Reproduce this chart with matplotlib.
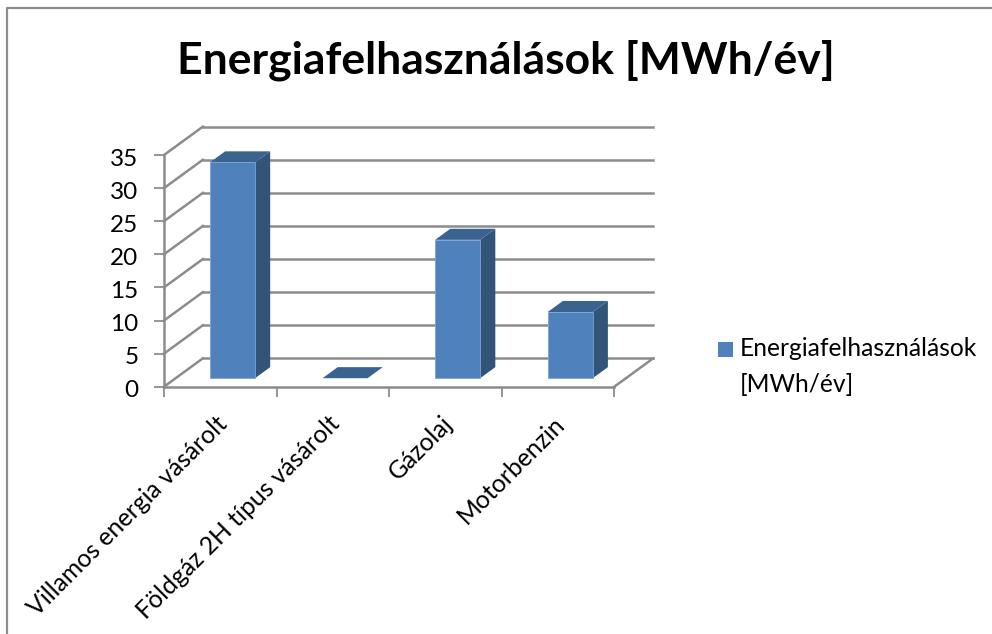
import matplotlib
matplotlib.use('Agg')
import matplotlib.pyplot as plt
from matplotlib.lines import Line2D
from matplotlib.patches import Polygon, Rectangle
from matplotlib.transforms import ScaledTranslation

plt.rcParams['font.family'] = ['Lato', 'DejaVu Sans']

categories = ['Villamos energia vásárolt', 'Földgáz 2H típus vásárolt', 'Gázolaj', 'Motorbenzin']
values = [32.6, 0.0, 20.9, 10.0]
y_ticks = [0, 5, 10, 15, 20, 25, 30, 35]
title = 'Energiafelhasználások [MWh/év]'
series_name = 'Energiafelhasználások\n[MWh/év]'

W, H = 992, 634
GRID = '#8c8c8c'
FRONT = '#4f81bd'
TOP = '#3a638f'
SIDE = '#325479'

# oblique depth, in data units per unit of depth
DX = 0.345
DY = 4.28
BAR_W = 0.4


def pt(x, y, d=0.0):
    return (x + d * DX, y + d * DY)


fig = plt.figure(figsize=(W / 100, H / 100), dpi=100)
# chart frame is cut off at right and bottom, only these two sides show
fig.add_artist(Line2D([7 / W, 7 / W, 1], [0, 1 - 8 / H, 1 - 8 / H], color=GRID, lw=1.6))

ax = fig.add_axes([164 / W, 1 - 386.7 / H, 450.3 / W, 231.7 / H])
ax.set_xlim(0, len(categories))
ax.set_ylim(0, 35)
ax.patch.set_visible(False)
for s in ax.spines.values():
    s.set_visible(False)

# walls and floor
for v in y_ticks:
    ax.plot(*zip(pt(0, v), pt(0, v, 1)), color=GRID, lw=1.8, clip_on=False, zorder=1)
    ax.plot(*zip(pt(0, v, 1), pt(len(categories), v, 1)), color=GRID, lw=1.8, clip_on=False, zorder=1)
ax.plot(*zip(pt(0, 0), pt(0, 35)), color=GRID, lw=1.8, clip_on=False, zorder=1)
ax.plot(*zip(pt(0, 0), pt(len(categories), 0)), color=GRID, lw=1.8, clip_on=False, zorder=1)
ax.plot(*zip(pt(len(categories), 0), pt(len(categories), 0, 1)), color=GRID, lw=1.8, clip_on=False, zorder=1)

# bars
d0, d1 = 0.3, 0.69
for i, v in enumerate(values):
    x0 = i + 0.505 - BAR_W / 2
    x1 = x0 + BAR_W
    ax.add_patch(Polygon([pt(x1, 0, d0), pt(x1, 0, d1), pt(x1, v, d1), pt(x1, v, d0)],
                         fc=SIDE, ec='none', clip_on=False, zorder=3))
    ax.add_patch(Polygon([pt(x0, v, d0), pt(x1, v, d0), pt(x1, v, d1), pt(x0, v, d1)],
                         fc=TOP, ec='none', clip_on=False, zorder=3))
    if v > 0:
        ax.add_patch(Polygon([pt(x0, 0, d0), pt(x1, 0, d0), pt(x1, v, d0), pt(x0, v, d0)],
                             fc=FRONT, ec='#7aa3d6', lw=0.6, clip_on=False, zorder=4))

ax.set_yticks(y_ticks)
ax.tick_params(axis='y', length=7, width=1.3, color=GRID, labelsize=17.5, pad=11.5, labelcolor='black')
for lab in ax.get_yticklabels():
    lab.set_transform(lab.get_transform() + ScaledTranslation(0, -2 / 100, fig.dpi_scale_trans))
ax.set_xticks(range(len(categories) + 1))
ax.set_xticklabels([''] * (len(categories) + 1))
ax.tick_params(axis='x', length=7, width=1.3, color=GRID)

# slanted labels end just under the tick's right side
for i, name in enumerate(categories):
    ax.annotate(name, xy=(i + 0.5, 0), xytext=(-3.5, -18), textcoords='offset points',
                rotation=45, rotation_mode='anchor', ha='right', va='top', fontsize=17.8,
                annotation_clip=False)

fig.text(505.5 / W, 1 - 60 / H, title, fontsize=32, fontweight='bold', ha='center', va='center')

fig.add_artist(Rectangle((718 / W, 1 - 357 / H), 15 / W, 15 / H, fc=FRONT, ec='none',
                         transform=fig.transFigure))
fig.text(740 / W, 1 - 337 / H, series_name, fontsize=17.7, ha='left', va='top', linespacing=1.7)

fig.savefig('out.png', dpi=100)
